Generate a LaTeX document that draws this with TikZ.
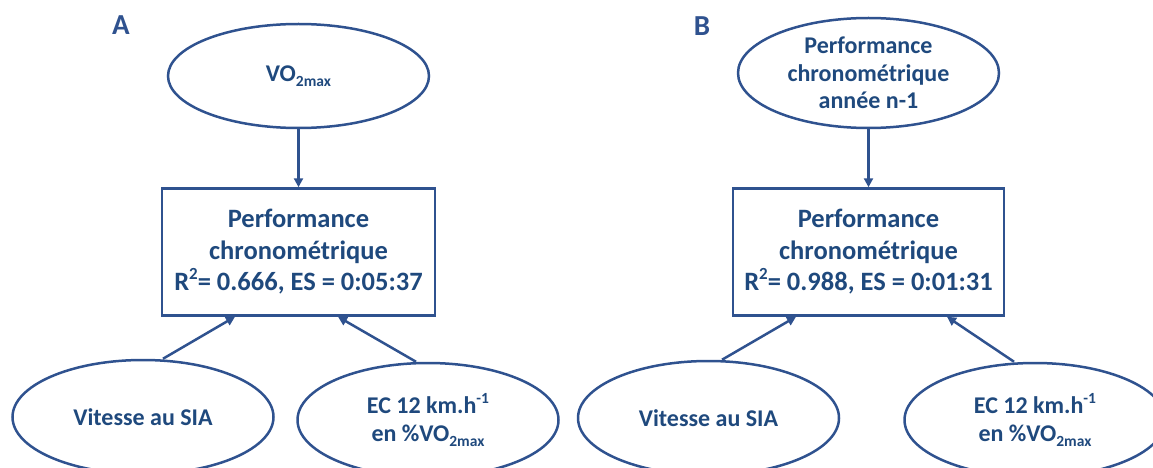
\documentclass[tikz,border=0pt]{standalone}
\usepackage{fontspec}
\setmainfont{Carlito}
\usetikzlibrary{shapes.geometric,arrows.meta,calc}
\definecolor{txtblue}{RGB}{31,73,125}
\definecolor{lineblue}{RGB}{47,82,143}
\newcommand{\mysub}[1]{\raisebox{-0.22em}{\fontsize{15.5}{15.5}\selectfont #1}}
\newcommand{\mysup}[1]{\raisebox{0.42em}{\fontsize{15.5}{15.5}\selectfont #1}}
\newcommand{\boxsup}[1]{\raisebox{0.42em}{\fontsize{17}{17}\selectfont #1}}
\begin{document}
\begin{tikzpicture}[x=1pt,y=1pt,
  ell/.style={ellipse, draw=lineblue, line width=2.5pt, inner sep=0pt, minimum width=261pt},
  rbox/.style={rectangle, draw=lineblue, line width=2.5pt, inner sep=0pt, minimum height=127pt},
  txt/.style={text=txtblue, font=\bfseries\fontsize{24}{28}\selectfont, align=center, inner sep=0pt},
  btxt/.style={text=txtblue, font=\bfseries\fontsize{26.5}{31.5}\selectfont, align=center, inner sep=0pt},
  lbl/.style={text=lineblue, font=\bfseries\fontsize{29}{29}\selectfont, inner sep=0pt},
  arr/.style={draw=lineblue, line width=2.5pt, -{Triangle[length=9pt,width=9pt]}}]
\useasboundingbox (0,0) rectangle (1153,-468);
\clip (0,0) rectangle (1153,-468);
% Panel A
\node[lbl] (labA) at (121,-25) {A};
\node[ell, minimum height=104pt] (eA) at (298.5,-76) {};
\node[txt] (teA) at (eA) {VO\mysub{2max}};
\node[rbox, minimum width=273pt] (bA) at (298.5,-252) {};
\node[btxt] (tbA) at (bA) {Performance\\chronométrique\\R\boxsup{2}= 0.666, ES = 0:05:37};
\node[ell, minimum height=114pt] (blA) at (143,-417) {};
\node[txt] (tblA) at (blA) {Vitesse au SIA};
\node[ell, minimum height=114pt] (brA) at (428,-420) {};
\node[txt] (tbrA) at (brA) {EC 12 km.h\mysup{-1}\\en \%VO\mysub{2max}};
\draw[arr] (eA.south) -- (bA.north);
\draw[arr] ($(blA.north)+(20,0)$) -- ($(bA.south)+(-63.5,0)$);
\draw[arr] ($(brA.north)+(-12,0)$) -- ($(bA.south)+(39.5,0)$);
% Panel B
\node[lbl] (labB) at (702,-26) {B};
\node[ell, minimum height=110pt] (eB) at (868.5,-73) {};
\node[txt, font=\bfseries\fontsize{24}{27.5}\selectfont] (teB) at (eB) {Performance\\chronométrique\\année n-1};
\node[rbox, minimum width=271pt] (bB) at (868.5,-252) {};
\node[btxt] (tbB) at (bB) {Performance\\chronométrique\\R\boxsup{2}= 0.988, ES = 0:01:31};
\node[ell, minimum height=114pt] (blB) at (708.5,-418) {};
\node[txt] (tblB) at (blB) {Vitesse au SIA};
\node[ell, minimum height=114pt] (brB) at (1035,-420) {};
\node[txt] (tbrB) at (brB) {EC 12 km.h\mysup{-1}\\en \%VO\mysub{2max}};
\draw[arr] (eB.south) -- (bB.north);
\draw[arr] ($(blB.north)+(13.5,0)$) -- ($(bB.south)+(-72.5,0)$);
\draw[arr] ($(brB.north)+(-21,0)$) -- ($(bB.south)+(78.5,0)$);
\end{tikzpicture}
\end{document}
